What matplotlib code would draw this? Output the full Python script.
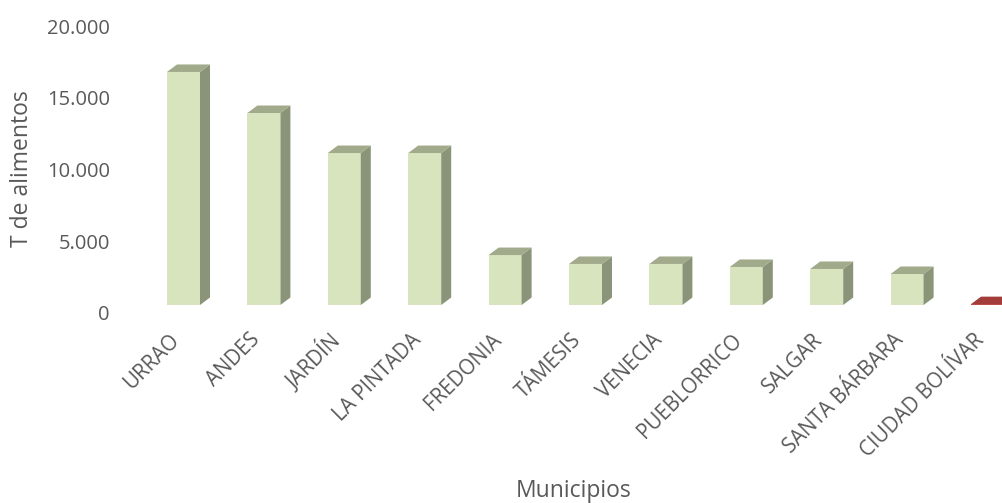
import numpy as np
import matplotlib
matplotlib.use("Agg")
import matplotlib.pyplot as plt
from matplotlib.patches import Rectangle, Polygon
import matplotlib.transforms as mtransforms

# --------------------------
# Datos
# --------------------------
municipios = ["URRAO", "ANDES", "JARDÍN", "LA PINTADA", "FREDONIA", "TÁMESIS",
              "VENECIA", "PUEBLORRICO", "SALGAR", "SANTA BÁRBARA", "CIUDAD BOLÍVAR"]
toneladas = [16240, 13380, 10590, 10590, 3480, 2860, 2860, 2650, 2510, 2160, 60]
colores_frente = ["#D7E4BD"] * 10 + ["#C0504D"]
colores_lado = ["#8A9478"] * 10 + ["#8E3532"]
colores_techo = ["#A1AA8B"] * 10 + ["#A33D3A"]
ticks_y = [0, 5000, 10000, 15000, 20000]

plt.rcParams["font.family"] = ["Open Sans", "DejaVu Sans"]
gris = "#595959"

fig = plt.figure(figsize=(10.03, 5.03), dpi=100)
W, H = 1003, 503

# geometria en pixeles (estimada del original)
paso_px = 80.4          # separacion entre columnas
x0_px = 183.5           # centro de la primera columna
escala_px = 71.75 / 5000  # pixeles por tonelada
base_px = 305           # base de la cara frontal (desde arriba)
caida_piso = 8 / escala_px  # el eje esta en el borde frontal del piso

izq_px, der_px = 115, 1003
arr_px, abj_px = 20, 330
xmin = (izq_px - x0_px) / paso_px
xmax = (der_px - x0_px) / paso_px
ymin = (base_px - abj_px) / escala_px
ymax = (base_px - arr_px) / escala_px

ax = fig.add_axes([izq_px / W, 1 - abj_px / H, (der_px - izq_px) / W, (abj_px - arr_px) / H])
ax.set_xlim(xmin, xmax)
ax.set_ylim(ymin, ymax)

ancho = 33 / paso_px
dx = 10 / paso_px
dy = 7.5 / escala_px

for i, v in enumerate(toneladas):
    x1, x2 = i - ancho / 2, i + ancho / 2
    ax.add_patch(Rectangle((x1, 0), ancho, v, facecolor=colores_frente[i], edgecolor="none"))
    ax.add_patch(Polygon([(x2, 0), (x2 + dx, dy), (x2 + dx, v + dy), (x2, v)],
                         facecolor=colores_lado[i], edgecolor="none"))
    ax.add_patch(Polygon([(x1, v), (x1 + dx, v + dy), (x2 + dx, v + dy), (x2, v)],
                         facecolor=colores_techo[i], edgecolor="none"))

for s in ax.spines.values():
    s.set_visible(False)

ax.set_yticks([t - caida_piso for t in ticks_y])
ax.set_yticklabels([f"{t:,}".replace(",", ".") for t in ticks_y])
ax.tick_params(axis="y", length=0, pad=3.6, labelsize=14.5, labelcolor=gris)

ax.set_xticks(range(len(municipios)))
ax.set_xticklabels(municipios, rotation=45, ha="right", va="center", rotation_mode="anchor")
ax.tick_params(axis="x", length=0, pad=5.0, labelsize=14.8, labelcolor=gris)
desplaza = mtransforms.ScaledTranslation(-7 / 100, 0, fig.dpi_scale_trans)
for lab in ax.get_xticklabels():
    lab.set_transform(lab.get_transform() + desplaza)

fig.text(22 / W, 1 - 169 / H, "T de alimentos", rotation=90, ha="center", va="center",
         fontsize=16.5, color=gris)
fig.text(574 / W, 1 - 497 / H, "Municipios", ha="center", va="baseline",
         fontsize=16.5, color=gris)

fig.savefig("out.png", dpi=100)
